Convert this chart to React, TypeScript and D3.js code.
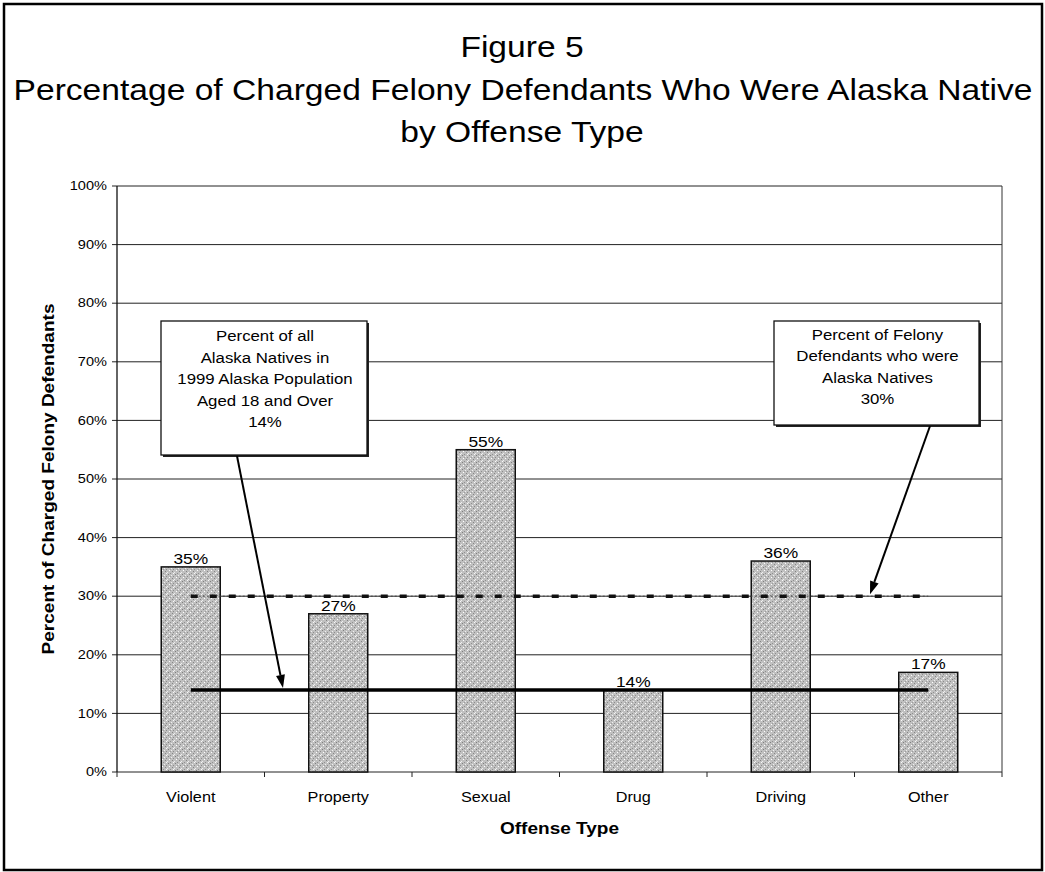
import React from "react";
import * as d3 from "d3";

const titleLines = [
  "Figure 5",
  "Percentage of Charged Felony Defendants Who Were Alaska Native",
  "by Offense Type",
];
const categories = ["Violent", "Property", "Sexual", "Drug", "Driving", "Other"];
const values = [35, 27, 55, 14, 36, 17];
const yTicks = [0, 10, 20, 30, 40, 50, 60, 70, 80, 90, 100];
const felonyAvg = 30;
const populationShare = 14;
const leftNote = [
  "Percent of all",
  "Alaska Natives in",
  "1999 Alaska Population",
  "Aged 18 and Over",
  "14%",
];
const rightNote = ["Percent of Felony", "Defendants who were", "Alaska Natives", "30%"];
const yTitle = "Percent of Charged Felony Defendants";
const xTitle = "Offense Type";

const FONT = "'Liberation Sans', Arial, Helvetica, sans-serif";
const SX = 1.12;

function T(props: {
  x: number;
  y: number;
  size: number;
  weight?: string;
  anchor?: string;
  rotate?: number;
  sx?: number;
  children: React.ReactNode;
  baseline?: string;
}) {
  const { x, y, size, weight = "normal", anchor = "middle", rotate = 0, sx = SX, children, baseline } = props;
  return (
    <text
      transform={`translate(${x},${y})${rotate ? ` rotate(${rotate})` : ""} scale(${sx},1)`}
      fontSize={size}
      fontWeight={weight}
      textAnchor={anchor}
      fontFamily={FONT}
      fill="#000"
      dominantBaseline={baseline}
    >
      {children}
    </text>
  );
}

export default function App() {
  const W = 1045;
  const H = 872;
  const x0 = 117;
  const x1 = 1002;
  const yTop = 186;
  const yBot = 772;

  const x = d3.scaleBand<string>().domain(categories).range([x0, x1]).paddingInner(0.6).paddingOuter(0.3);
  const y = d3.scaleLinear().domain([0, 100]).range([yBot, yTop]);
  const bw = x.bandwidth();
  const cx = (c: string) => (x(c) as number) + bw / 2;
  const firstC = cx(categories[0]);
  const lastC = cx(categories[categories.length - 1]);

  const boundaries = d3.range(categories.length + 1).map((i) => x0 + (i * (x1 - x0)) / categories.length);

  const arrow = (ax: number, ay: number, bx: number, by: number) => {
    const ang = Math.atan2(by - ay, bx - ax);
    const L = 13;
    const hw = 4.5;
    const px = bx - L * Math.cos(ang);
    const py = by - L * Math.sin(ang);
    const p1 = [px + hw * Math.sin(ang), py - hw * Math.cos(ang)];
    const p2 = [px - hw * Math.sin(ang), py + hw * Math.cos(ang)];
    return (
      <g>
        <line x1={ax} y1={ay} x2={px} y2={py} stroke="#000" strokeWidth={2} />
        <polygon points={`${bx},${by} ${p1[0]},${p1[1]} ${p2[0]},${p2[1]}`} fill="#000" />
      </g>
    );
  };

  const lb = { x: 161, y: 321, w: 206, h: 134 };
  const rb = { x: 774, y: 321, w: 205, h: 104 };

  return (
    <svg width={W} height={H} style={{ position: "absolute", left: 0, top: 0, background: "#fff" }}>
      <defs>
        <pattern id="stip" width="7" height="7" patternUnits="userSpaceOnUse">
          <rect width="7" height="7" fill="#c0c0c0" />
          <rect x="0" y="0" width="1" height="1" fill="#7f7f7f" />
          <rect x="3" y="1" width="1" height="1" fill="#f0f0f0" />
          <rect x="5" y="2" width="1" height="1" fill="#8c8c8c" />
          <rect x="1" y="3" width="1" height="1" fill="#ffffff" />
          <rect x="4" y="4" width="1" height="1" fill="#858585" />
          <rect x="6" y="5" width="1" height="1" fill="#eeeeee" />
          <rect x="2" y="6" width="1" height="1" fill="#8f8f8f" />
          <rect x="5" y="6" width="1" height="1" fill="#fafafa" />
          <rect x="2" y="2" width="1" height="1" fill="#9d9d9d" />
        </pattern>
      </defs>
      <rect x={4} y={4} width={1038} height={866} fill="#fff" stroke="#000" strokeWidth={2.5} />

      {/* Title */}
      <T x={522} y={57} size={30}>{titleLines[0]}</T>
      <T x={523} y={100} size={30}>{titleLines[1]}</T>
      <T x={522} y={142} size={30}>{titleLines[2]}</T>

      {/* grid */}
      {yTicks.map((t) => (
        <g key={t}>
          <line x1={x0} x2={x1} y1={y(t)} y2={y(t)} stroke="#222" strokeWidth={1} />
          <line x1={x0 - 5} x2={x0} y1={y(t)} y2={y(t)} stroke="#222" strokeWidth={1} />
          <T x={107} y={y(t)} size={13} anchor="end" baseline="central">{`${t}%`}</T>
        </g>
      ))}
      <line x1={x0} x2={x0} y1={yTop} y2={yBot} stroke="#111" strokeWidth={1.3} />
      <line x1={x1} x2={x1} y1={yTop} y2={yBot} stroke="#333" strokeWidth={1} />
      {boundaries.map((b, i) => (
        <line key={i} x1={b} x2={b} y1={yBot} y2={yBot + 5} stroke="#222" strokeWidth={1} />
      ))}

      {/* bars */}
      {categories.map((c, i) => (
        <g key={c}>
          <rect
            x={x(c)}
            y={y(values[i])}
            width={bw}
            height={yBot - y(values[i])}
            fill="url(#stip)"
            stroke="#111"
            strokeWidth={1.5}
          />
          <T x={cx(c)} y={y(values[i]) - 3} size={15.5}>{`${values[i]}%`}</T>
          <T x={cx(c)} y={802} size={14.5}>{c}</T>
        </g>
      ))}

      {/* reference lines */}
      <line x1={firstC} x2={lastC} y1={y(felonyAvg)} y2={y(felonyAvg)} stroke="#444" strokeWidth={1} strokeDasharray="2,2" />
      <line x1={firstC} x2={lastC} y1={y(felonyAvg)} y2={y(felonyAvg)} stroke="#111" strokeWidth={3.5} strokeDasharray="7,12" />
      <line x1={firstC} x2={lastC} y1={y(populationShare)} y2={y(populationShare)} stroke="#000" strokeWidth={3.5} />

      {/* callouts */}
      <rect x={lb.x + 2} y={lb.y + 2} width={lb.w} height={lb.h} fill="#222" />
      <rect x={lb.x} y={lb.y} width={lb.w} height={lb.h} fill="#fff" stroke="#111" strokeWidth={1.3} />
      {leftNote.map((s, i) => (
        <T key={i} x={lb.x + lb.w / 2 + 1} y={341 + i * 21.5} size={15}>{s}</T>
      ))}
      <rect x={rb.x + 2} y={rb.y + 2} width={rb.w} height={rb.h} fill="#222" />
      <rect x={rb.x} y={rb.y} width={rb.w} height={rb.h} fill="#fff" stroke="#111" strokeWidth={1.3} />
      {rightNote.map((s, i) => (
        <T key={i} x={rb.x + rb.w / 2 + 1} y={340 + i * 21.3} size={15}>{s}</T>
      ))}
      {arrow(237, lb.y + lb.h + 1, 283, y(populationShare) - 2)}
      {arrow(930, rb.y + rb.h + 1, 870, y(felonyAvg) - 2)}

      {/* axis titles */}
      <T x={48} y={(yTop + yBot) / 2} size={17} weight="bold" rotate={-90} baseline="central">{yTitle}</T>
      <T x={(x0 + x1) / 2} y={834} size={17} weight="bold">{xTitle}</T>
    </svg>
  );
}
